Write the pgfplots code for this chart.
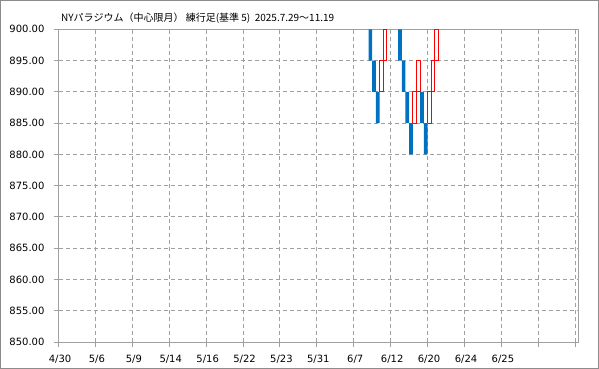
\documentclass[border=0pt]{standalone}
\usepackage{pgfplots}
\pgfplotsset{compat=1.18}
\usepackage{pgfplotstable}
\usepackage{fontspec}
\setmainfont{DejaVu Sans}
\newfontfamily\cjk{Noto Sans CJK JP}
\definecolor{brickblue}{HTML}{0070C0}
\definecolor{axgray}{HTML}{A0A0A0}
\definecolor{framegray}{HTML}{8C8C8C}
% renko bricks as rectangle outlines (x = column position, y = price)
\pgfplotstableread{
x y
8.4 895
8.5 895
8.5 900
8.4 900
8.4 895
nan nan
8.5 890
8.6 890
8.6 895
8.5 895
8.5 890
nan nan
8.6 885
8.7 885
8.7 890
8.6 890
8.6 885
nan nan
9.2 895
9.3 895
9.3 900
9.2 900
9.2 895
nan nan
9.3 890
9.4 890
9.4 895
9.3 895
9.3 890
nan nan
9.4 885
9.5 885
9.5 890
9.4 890
9.4 885
nan nan
9.5 880
9.6 880
9.6 885
9.5 885
9.5 880
nan nan
9.8 885
9.9 885
9.9 890
9.8 890
9.8 885
nan nan
9.9 880
10.0 880
10.0 885
9.9 885
9.9 880
}\bluebricks
\pgfplotstableread{
x y
8.7 890
8.8 890
8.8 895
8.7 895
8.7 890
nan nan
8.8 895
8.9 895
8.9 900
8.8 900
8.8 895
nan nan
9.6 885
9.7 885
9.7 890
9.6 890
9.6 885
nan nan
9.7 890
9.8 890
9.8 895
9.7 895
9.7 890
nan nan
10.0 885
10.1 885
10.1 890
10.0 890
10.0 885
nan nan
10.1 890
10.2 890
10.2 895
10.1 895
10.1 890
nan nan
10.2 895
10.3 895
10.3 900
10.2 900
10.2 895
}\redbricks
\begin{document}
\begin{tikzpicture}
\useasboundingbox (0bp,0bp) rectangle (599bp,369bp);
\draw[framegray, line width=1bp] (0.5bp,0.5bp) rectangle (598.5bp,368.5bp);
\node[anchor=west, inner sep=0pt, font=\cjk\fontsize{10bp}{12bp}\selectfont] at (61bp,350.5bp) {NYパラジウム（中心限月） 練行足(基準 5)\ \ 2025.7.29～11.19};
\begin{axis}[
 at={(58.5bp,27bp)}, anchor=south west, scale only axis,
 width=519.5bp, height=312.7bp,
 xmin=0, xmax=14.075, ymin=850, ymax=900,
 xtick={0,1,...,14},
 xticklabels={4/30,5/6,5/9,5/14,5/16,5/22,5/23,5/31,6/7,6/12,6/20,6/24,6/25,{},{}},
 ytick={850,855,...,900},
 grid=major,
 major grid style={axgray, dash pattern=on 4bp off 3bp, line width=1bp},
 axis line style={axgray, line width=1bp},
 tick style={axgray, line width=1bp},
 tick align=outside, major tick length=4.5bp, tick pos=left,
 yticklabel style={xshift=-6bp, /pgf/number format/fixed, /pgf/number format/fixed zerofill, /pgf/number format/precision=2},
 xticklabel style={yshift=-5bp, xshift=1.5bp},
 /pgf/number format/assume math mode=true,
 ticklabel style={font=\fontsize{10bp}{12bp}\selectfont, text=black},
 unbounded coords=jump,
]
\addplot[fill=brickblue, draw=none, mark=none] table[x=x,y=y] {\bluebricks};
\addplot[fill=white, draw=red, line width=1bp, mark=none] table[x=x,y=y] {\redbricks};
\end{axis}
\end{tikzpicture}
\end{document}
